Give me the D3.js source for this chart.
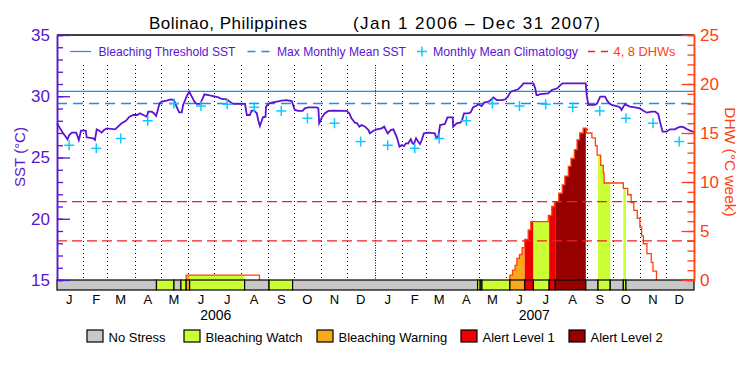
<!DOCTYPE html>
<html><head><meta charset="utf-8">
<script src="https://cdn.jsdelivr.net/npm/d3@7"></script>
<style>
body{margin:0;background:#fff}
svg{display:block}
text{font-family:"Liberation Sans",Arial,sans-serif}
</style>
</head><body>
<svg id="c" width="750" height="375"></svg>
<script>
// ---------------- DATA ----------------
const months = ["J","F","M","A","M","J","J","A","S","O","N","D"];
const years = ["2006","2007"];
const climatology = [26.0, 25.75, 26.55, 28.0, 29.4, 29.2, 29.35, 29.1, 28.8, 28.2, 27.8, 26.3];
const maxMonthlyMean = 29.4;
const bleachingThreshold = 30.4;
const dhwGuides = [4, 8];
// SST: days since 2006-01-01 and value (deg C)
const sstDay = [0,3.5,7,10,12,14,17,22,23,25,27.5,33,34,41.5,43.5,45.5,48.5,51,54,57,66.5,70,74,79,83,87.5,92,95,99,103,104.5,108.5,111,113.5,115,117.5,120,125.5,130.5,134,137,140,143,144.5,148.5,151.5,154.5,157.5,160,164,167,169,173.5,179,185,188.5,194.5,198.5,202,215.5,217.5,221,223,226,229,230.5,232.5,236,239,239.5,242,246,252,257.5,263,269,272.5,276.5,281.5,284,288,297.5,299.5,300.5,302,303.5,307,311,316.5,332,335,337.5,341.5,344,346.5,349,353,357,358.5,362.5,366.5,372,375,377,379,382.5,385.5,387.5,389.5,392.5,395,397.5,400,402.5,405.5,407.5,409,411.5,414,416,418,420.5,425.5,433,435,437,439,444.5,447.5,453.5,454,458,462,464,466.5,471.5,474,477,481,483,486.5,489.5,494.5,498,500,504,509.5,513.5,516,520,523,528.5,532.5,534.5,546,548,549.5,551.5,553.5,563,567,573.5,577,579.5,606,607,609,616.5,619,622.5,628,630.5,633,635.5,641.5,645,647,649,651,656.5,662.5,668,672,676,681.5,685.5,689,691,694,698.5,702.5,708,712,716,718.5,721.5,725.5,730];
const sstValue = [27.79,27.38,26.98,26.70,26.49,26.84,27.03,27.03,26.84,26.43,27.19,27.19,26.65,26.57,26.43,27.30,27.19,27.03,27.24,27.38,27.30,27.52,27.79,28.0,28.33,28.47,28.47,28.61,28.47,28.33,28.74,28.74,28.61,28.39,28.74,29.42,29.56,29.64,29.75,29.69,29.15,28.69,28.69,29.29,29.97,30.37,29.97,29.56,29.37,29.37,29.83,30.16,30.10,30.02,29.91,29.78,29.75,29.53,29.37,29.37,28.47,28.47,28.82,28.82,28.61,28.06,27.57,28.28,28.33,29.15,29.37,29.48,29.56,29.64,29.69,29.61,28.88,28.80,28.80,29.01,29.10,29.10,29.01,27.79,28.0,28.28,28.61,28.80,28.82,28.80,28.61,28.20,27.84,27.79,27.52,27.65,27.52,27.24,26.97,27.19,27.30,27.38,27.52,27.24,26.97,27.24,27.30,26.97,26.65,25.88,26.02,25.93,26.16,26.16,26.49,26.16,26.10,26.57,26.29,26.10,26.43,26.97,27.03,26.97,26.57,26.70,27.65,27.73,28.28,28.28,27.52,27.79,27.84,28.0,28.61,28.61,28.69,29.10,29.24,29.34,29.20,29.48,29.56,29.75,29.91,29.69,29.69,29.75,29.91,30.37,30.45,30.57,30.86,31.05,31.05,30.65,30.10,30.10,30.18,30.24,30.51,30.65,30.92,31.05,31.05,30.10,29.29,29.29,29.42,29.97,29.97,29.64,29.42,29.29,29.20,29.10,28.88,29.15,29.34,29.15,29.10,29.01,28.82,28.66,28.75,28.75,28.55,27.92,27.11,27.11,27.30,27.30,27.46,27.52,27.46,27.33,27.19,27.08];
// Degree Heating Weeks (step values, hold until next date)
const dhwDates = ["2006-05-29","2006-08-21",
  "2007-06-04","2007-06-07","2007-06-10","2007-06-12","2007-06-15","2007-06-18","2007-06-21","2007-06-25","2007-06-28",
  "2007-07-18","2007-07-22","2007-07-25","2007-07-30","2007-08-03","2007-08-06","2007-08-10","2007-08-13","2007-08-17",
  "2007-08-20","2007-08-23","2007-08-27","2007-08-31","2007-09-06","2007-09-10","2007-09-12","2007-09-16","2007-09-19",
  "2007-09-20","2007-10-12","2007-10-17","2007-10-21","2007-10-24","2007-10-28","2007-10-31","2007-11-02","2007-11-04",
  "2007-11-08","2007-11-13","2007-11-15","2007-11-19"];
const dhwValues = [0.5,0,
  0.5,1.0,1.5,2.2,2.6,3.3,4.15,5.1,5.95,
  6.6,7.5,8.0,8.85,9.7,10.6,11.6,12.4,13.3,
  14.3,15.0,15.5,15.0,14.5,13.7,12.75,11.7,10.9,
  9.9,9.35,8.7,7.9,7.1,6.3,5.4,4.5,3.7,
  2.7,1.8,0.9,0];
// Bleaching alert status: start dates and level index into statusNames
const statusStart = ["2006-01-01","2006-04-25","2006-05-15","2006-05-23","2006-05-29","2006-06-02","2006-08-04","2006-09-01","2006-09-28",
  "2007-04-28","2007-05-01","2007-05-03","2007-06-04","2007-06-21","2007-07-01","2007-07-19","2007-07-26","2007-08-30",
  "2007-09-13","2007-09-27","2007-10-12","2007-10-15"];
const statusLevel = [0,1,0,1,2,1,0,1,0, 1,0,1,2,3,1,3,4,0, 1,0,1,0];
const statusNames = ["No Stress","Bleaching Watch","Bleaching Warning","Alert Level 1","Alert Level 2"];
const statusColors = ["#c8c8c8","#ccff33","#f9a81a","#ee0000","#960000"];

// ---------------- SETUP ----------------
const W = 750, H = 375, L = 57, R = 694, T = 35, B = 280;
const PURPLE = "#5a14d2", ORANGE = "#ff4010", BLUE = "#1e8cf0", CYAN = "#12c8ff", RED = "#ee2222";
const parse = d3.timeParse("%Y-%m-%d");
const t0 = parse("2006-01-01"), t1 = parse("2008-01-01");
const x = d3.scaleTime().domain([t0, t1]).range([L, R]);
const ySST = d3.scaleLinear().domain([15, 35]).range([B, T]);
const yDHW = d3.scaleLinear().domain([0, 25]).range([B, T]);

const svg = d3.select("#c");
svg.append("rect").attr("width", W).attr("height", H).attr("fill", "#fff");

// month boundary dotted lines
const bounds = d3.timeMonth.range(d3.timeMonth.offset(t0, 1), t1);
svg.append("g").selectAll("line").data(bounds).join("line")
  .attr("x1", d => Math.round(x(d)) - 0.5).attr("x2", d => Math.round(x(d)) - 0.5)
  .attr("y1", 65).attr("y2", B)
  .attr("stroke", "#000").attr("stroke-width", 1)
  .attr("stroke-dasharray", d => d.getMonth() === 0 ? "1,1.5" : "1,3");

// DHW data
const dhw = dhwDates.map((d, i) => ({date: parse(d), v: dhwValues[i]}));
const episodes = [];
let cur = [];
dhw.forEach(p => {
  if (cur.length === 0) cur.push({date: p.date, v: 0});
  cur.push(p);
  if (p.v === 0) { episodes.push(cur); cur = []; }
});

// status segments
const segs = statusStart.map((s, i) => ({
  start: parse(s),
  end: i + 1 < statusStart.length ? parse(statusStart[i + 1]) : t1,
  level: statusLevel[i]
}));

// DHW fill by status
const area = d3.area().curve(d3.curveStepAfter)
  .x(d => x(d.date)).y0(yDHW(0)).y1(d => yDHW(d.v));
const defs = svg.append("defs");
segs.forEach((s, i) => {
  if (s.level === 0) return;
  defs.append("clipPath").attr("id", "seg" + i).append("rect")
    .attr("x", x(s.start)).attr("width", x(s.end) - x(s.start))
    .attr("y", T).attr("height", B - T);
  episodes.forEach(ep => {
    svg.append("path").datum(ep).attr("d", area)
      .attr("fill", statusColors[s.level]).attr("clip-path", `url(#seg${i})`);
  });
});

// DHW line
const dhwLine = d3.line().curve(d3.curveStepAfter).x(d => x(d.date)).y(d => yDHW(d.v));
episodes.forEach(ep => {
  svg.append("path").datum(ep).attr("d", dhwLine)
    .attr("fill", "none").attr("stroke", ORANGE).attr("stroke-width", 1.3);
});

// DHW guide lines
svg.append("g").selectAll("line").data(dhwGuides).join("line")
  .attr("x1", L).attr("x2", R).attr("y1", d => yDHW(d)).attr("y2", d => yDHW(d))
  .attr("stroke", RED).attr("stroke-width", 1.3).attr("stroke-dasharray", "10,5");

// MMM and threshold
svg.append("line").attr("x1", L).attr("x2", R)
  .attr("y1", ySST(maxMonthlyMean)).attr("y2", ySST(maxMonthlyMean))
  .attr("stroke", BLUE).attr("stroke-width", 1.5).attr("stroke-dasharray", "10,6");
svg.append("line").attr("x1", L).attr("x2", R)
  .attr("y1", ySST(bleachingThreshold)).attr("y2", ySST(bleachingThreshold))
  .attr("stroke", BLUE).attr("stroke-width", 1.2);

// SST line
const sst = sstDay.map((d, i) => ({date: new Date(t0.getTime() + d * 864e5), v: sstValue[i]}));
svg.append("path").datum(sst)
  .attr("d", d3.line().x(d => Math.min(R, x(d.date))).y(d => ySST(d.v)))
  .attr("fill", "none").attr("stroke", PURPLE).attr("stroke-width", 1.8).attr("stroke-linejoin", "miter");

// climatology markers
const clim = [];
years.forEach(yr => climatology.forEach((c, m) => clim.push({date: new Date(+yr, m, 15), v: c})));
const plus = svg.append("g").attr("stroke", CYAN).attr("stroke-width", 1.5);
clim.forEach(d => {
  const cx = x(d.date), cy = ySST(d.v);
  plus.append("line").attr("x1", cx - 5).attr("x2", cx + 5).attr("y1", cy).attr("y2", cy);
  plus.append("line").attr("x1", cx).attr("x2", cx).attr("y1", cy - 5).attr("y2", cy + 5);
});

// status bar
svg.append("g").selectAll("rect").data(segs).join("rect")
  .attr("x", d => x(d.start)).attr("width", d => x(d.end) - x(d.start))
  .attr("y", B).attr("height", 10)
  .attr("fill", d => statusColors[d.level]).attr("stroke", "#000").attr("stroke-width", 1.2);

// top border
svg.append("line").attr("x1", L).attr("x2", R).attr("y1", T).attr("y2", T)
  .attr("stroke", "#000").attr("stroke-width", 1.5);

// axes
function styleAxis(g, col, fs) {
  g.selectAll("path").attr("stroke", col).attr("stroke-width", 1.5);
  g.selectAll("line").attr("stroke", col).attr("stroke-width", 1.3);
  g.selectAll("text").attr("fill", col).style("font-size", fs + "px")
    .style("font-family", '"Liberation Sans",Arial,sans-serif');
}
const gl1 = svg.append("g").attr("transform", `translate(${L},0)`)
  .call(d3.axisLeft(ySST).tickValues(d3.range(15, 36)).tickSize(-6).tickFormat(""));
styleAxis(gl1, PURPLE, 17);
const gl2 = svg.append("g").attr("transform", `translate(${L},0)`)
  .call(d3.axisLeft(ySST).tickValues([15, 20, 25, 30, 35]).tickSizeInner(-13).tickSizeOuter(0).tickPadding(7));
styleAxis(gl2, PURPLE, 17);
const gr1 = svg.append("g").attr("transform", `translate(${R},0)`)
  .call(d3.axisRight(yDHW).tickValues(d3.range(0, 26)).tickSize(-6.5).tickFormat(""));
styleAxis(gr1, ORANGE, 17);
const gr2 = svg.append("g").attr("transform", `translate(${R},0)`)
  .call(d3.axisRight(yDHW).tickValues([0, 5, 10, 15, 20, 25]).tickSizeInner(-12.5).tickSizeOuter(0).tickPadding(6));
styleAxis(gr2, ORANGE, 17);

// axis titles
svg.append("text").attr("transform", "translate(25,157) rotate(-90)")
  .attr("text-anchor", "middle").attr("fill", PURPLE).style("font-size", "15px").text("SST (°C)");
svg.append("text").attr("transform", "translate(725,162) rotate(90)")
  .attr("text-anchor", "middle").attr("fill", ORANGE).style("font-size", "15.5px").text("DHW (°C week)");

// month & year labels
years.forEach(yr => {
  months.forEach((m, i) => {
    svg.append("text").attr("x", x(new Date(+yr, i, 15))).attr("y", 304)
      .attr("text-anchor", "middle").style("font-size", "13px").attr("fill", "#000").text(m);
  });
  svg.append("text").attr("x", x(new Date(+yr, 6, 2))).attr("y", 320)
    .attr("text-anchor", "middle").style("font-size", "14px").attr("fill", "#000").text(yr);
});

// title
svg.append("text").attr("x", 149).attr("y", 29).attr("textLength", 158)
  .style("font-size", "17px").attr("fill", "#000").text("Bolinao, Philippines");
svg.append("text").attr("x", 353).attr("y", 29).attr("textLength", 247)
  .style("font-size", "17px").attr("fill", "#000").text("(Jan 1 2006 – Dec 31 2007)");

// top legend
const lg = svg.append("g").style("font-size", "12.5px");
lg.append("line").attr("x1", 70).attr("x2", 91).attr("y1", 51.5).attr("y2", 51.5).attr("stroke", BLUE).attr("stroke-width", 1.2);
lg.append("text").attr("x", 98.5).attr("y", 56).attr("textLength", 137).attr("lengthAdjust", "spacingAndGlyphs").attr("fill", PURPLE).text("Bleaching Threshold SST");
lg.append("line").attr("x1", 247.5).attr("x2", 271).attr("y1", 51.5).attr("y2", 51.5).attr("stroke", BLUE).attr("stroke-width", 1.5).attr("stroke-dasharray", "8,6");
lg.append("text").attr("x", 277).attr("y", 56).attr("textLength", 129).attr("lengthAdjust", "spacingAndGlyphs").attr("fill", PURPLE).text("Max Monthly Mean SST");
lg.append("line").attr("x1", 417).attr("x2", 427).attr("y1", 51.5).attr("y2", 51.5).attr("stroke", CYAN).attr("stroke-width", 1.5);
lg.append("line").attr("x1", 422).attr("x2", 422).attr("y1", 46.5).attr("y2", 56.5).attr("stroke", CYAN).attr("stroke-width", 1.5);
lg.append("text").attr("x", 433).attr("y", 56).attr("textLength", 145).attr("lengthAdjust", "spacingAndGlyphs").attr("fill", PURPLE).text("Monthly Mean Climatology");
lg.append("line").attr("x1", 588).attr("x2", 609).attr("y1", 51.5).attr("y2", 51.5).attr("stroke", RED).attr("stroke-width", 1.3).attr("stroke-dasharray", "7,6");
lg.append("text").attr("x", 613.5).attr("y", 56).attr("textLength", 62).attr("lengthAdjust", "spacingAndGlyphs").attr("fill", ORANGE).text("4, 8 DHWs");

// bottom legend
const boxX = [87, 184, 317, 461, 569];
const bl = svg.append("g");
statusNames.forEach((n, i) => {
  bl.append("rect").attr("x", boxX[i]).attr("y", 330).attr("width", 16).attr("height", 12)
    .attr("fill", statusColors[i]).attr("stroke", "#000").attr("stroke-width", 1.2);
  bl.append("text").attr("x", boxX[i] + 21.5).attr("y", 342).style("font-size", "13px")
    .attr("fill", "#000").text(n);
});
</script>
</body></html>
